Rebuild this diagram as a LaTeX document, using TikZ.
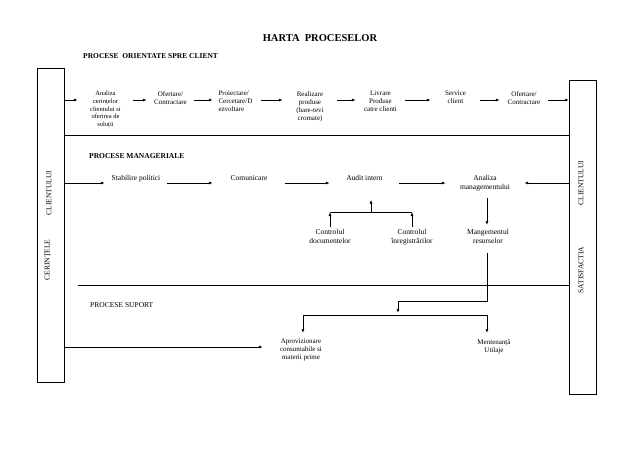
\documentclass[tikz,border=0pt]{standalone}
\usepackage{fontspec}
\setmainfont{Liberation Serif}
\usetikzlibrary{arrows.meta,calc}
\begin{document}
\begin{tikzpicture}[x=1pt,y=-1pt,
  every node/.style={inner sep=0pt},
  arr/.style={-{Latex[length=4pt,width=3pt]}, line width=0.8pt},
  ln/.style={line width=0.8pt},
  sidebox/.style={draw, line width=1pt, anchor=north west, minimum width=27pt, minimum height=314pt},
  toprow/.style={anchor=north, align=center, font=\fontsize{7}{8}\selectfont},
  mgr/.style={anchor=north, align=center, font=\fontsize{7.5}{9}\selectfont},
  suprow/.style={anchor=north, align=center, font=\fontsize{7}{8}\selectfont},
  headlbl/.style={anchor=west, font=\bfseries\fontsize{7.5}{9}\selectfont},
  sidelbl/.style={rotate=90, font=\fontsize{7.5}{9}\selectfont},
]
\useasboundingbox (0,0) rectangle (638,451);

% title and headings
\node[font=\bfseries\fontsize{10.5}{12}\selectfont] (title) at (320,38) {HARTA\ \ PROCESELOR};
\node[headlbl] (h1) at (83,56) {PROCESE\ \ ORIENTATE SPRE CLIENT};
\node[headlbl] (h2) at (89,156) {PROCESE MANAGERIALE};
\node[anchor=west, font=\fontsize{7.5}{9}\selectfont] (h3) at (90,305) {PROCESE SUPORT};

% side boxes
\node[sidebox] (L) at (37,68) {};
\node[sidebox] (R) at (569,80) {};
\node[sidelbl] (lc1) at (49,193) {CLIENTULUI};
\node[sidelbl] (lc2) at (48,260) {CERINȚELE};
\node[sidelbl] (rc1) at (581,183) {CLIENTULUI};
\node[sidelbl] (rc2) at (581,270) {SATISFACTIA};

% separators
\coordinate (sep1) at (0,135);
\coordinate (sep2) at (78,285);
\draw[ln] (L.east |- sep1) -- (R.west |- sep1);
\draw[ln] (sep2) -- (R.west |- sep2);

% top row
\coordinate (r1) at (0,100);
\node[toprow, minimum width=55pt, font=\fontsize{6.5}{7.75}\selectfont] (n1) at (105.5,91) {Analiza\\cerințelor\\clientului si\\oferirea de\\soluții};
\node[toprow, minimum width=47pt] (n2) at (170.5,91) {Ofertare/\\Contractare};
\node[toprow, align=left, text width=37pt, inner xsep=5.5pt] (n3) at (237,91) {Proiectare/\\Cercetare/D\\ezvoltare};
\node[toprow, minimum width=54pt] (n4) at (310,91) {Realizare\\produse\\(bare-tevi\\cromate)};
\node[toprow, minimum width=49pt] (n5) at (380.5,91) {Livrare\\Produse\\catre clienti};
\node[toprow, minimum width=49pt] (n6) at (455.5,91) {Service\\client};
\node[toprow, minimum width=48pt] (n7) at (524,91) {Ofertare/\\Contractare};
\draw[arr] (L.east |- r1) -- (n1.west |- r1);
\draw[arr] (n1.east |- r1) -- (n2.west |- r1);
\draw[arr] (n2.east |- r1) -- (n3.west |- r1);
\draw[arr] (n3.east |- r1) -- (n4.west |- r1);
\draw[arr] (n4.east |- r1) -- (n5.west |- r1);
\draw[arr] (n5.east |- r1) -- (n6.west |- r1);
\draw[arr] (n6.east |- r1) -- (n7.west |- r1);
\draw[arr] (n7.east |- r1) -- (R.west |- r1);

% managerial row
\coordinate (r2) at (0,183);
\node[mgr, minimum width=62pt] (s1) at (136,175) {Stabilire politici};
\node[mgr, minimum width=72pt] (s2) at (249,175) {Comunicare};
\node[mgr, minimum width=69pt] (s3) at (364.5,175) {Audit intern};
\node[mgr, minimum width=78pt] (s4) at (485,175) {Analiza\\managementului};
\draw[arr] (L.east |- r2) -- (s1.west |- r2);
\draw[arr] (s1.east |- r2) -- (s2.west |- r2);
\draw[arr] (s2.east |- r2) -- (s3.west |- r2);
\draw[arr] (s3.east |- r2) -- (s4.west |- r2);
\draw[arr] (R.west |- r2) -- (s4.east |- r2);

\node[mgr] (c1) at (330,229.5) {Controlul\\documentelor};
\node[mgr] (c2) at (412,229.5) {Controlul\\înregistrărilor};
\node[mgr] (m) at (488,229.5) {Mangementul\\resurselor};
\coordinate (j1) at (371,212);
\draw[ln] (c1.north |- j1) -- (c2.north |- j1);
\draw[arr] ($(c1.north)+(0,-2.5)$) -- (c1.north |- j1);
\draw[arr] ($(c2.north)+(0,-2.5)$) -- (c2.north |- j1);
\draw[arr] (j1) -- ($(s3.south -| j1)+(0,19)$);
\coordinate (v1) at (487,0);
\draw[arr] ($(s4.south -| v1)+(0,7)$) -- ($(m.north -| v1)+(0,-4.5)$);

% support
\node[suprow] (a1) at (301,339) {Aprovizionare\\consumabile si\\materii prime};
\node[suprow] (a2) at (494,340) {Mentenanță\\Utilaje};
\coordinate (t1) at (398,301);
\coordinate (t2) at (398,313);
\coordinate (k1) at (303,315);
\coordinate (k2) at (487,315);
\draw[ln] ($(m.south -| v1)+(0,9)$) -- (v1 |- t1) -- (t1);
\draw[arr] (t1) -- (t2);
\draw[ln] (k1) -- (k2);
\draw[arr] (k1) -- ($(k1 |- a1.north)+(0,-6)$);
\draw[arr] (k2) -- ($(k2 |- a2.north)+(0,-7)$);
\coordinate (r3) at (0,347);
\draw[arr] (L.east |- r3) -- ($(a1.west |- r3)+(-17,0)$);
\end{tikzpicture}
\end{document}
